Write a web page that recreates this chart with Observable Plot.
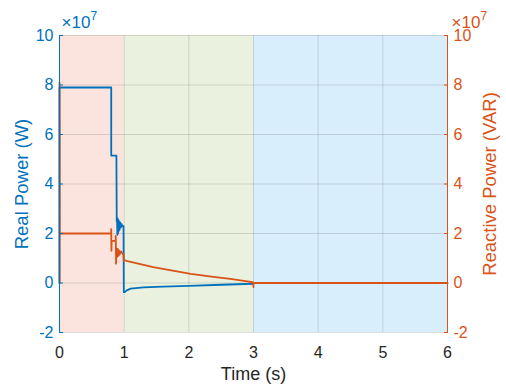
<!DOCTYPE html>
<html>
<head>
<meta charset="utf-8">
<script src="https://cdn.jsdelivr.net/npm/d3@7"></script>
<script src="https://cdn.jsdelivr.net/npm/@observablehq/plot@0.6"></script>
<style>
  html, body { margin: 0; padding: 0; background: #fff; }
  #chart svg { display: block; }
</style>
</head>
<body>
<div id="chart"></div>
<script>
// Axis ticks (both y axes share the same range, in units of 1e7)
const timeTicks = [0, 1, 2, 3, 4, 5, 6];
const powerTicks = [-2, 0, 2, 4, 6, 8, 10];

// Operating phases (s): pre-fault, transient, steady state
const phaseEdges = [0, 1, 3, 6];

// Real power P (×1e7 W)
const realTime = [0, 0, 0.80, 0.80, 0.88, 0.885, 0.89, 0.895, 0.90, 0.905, 0.91, 0.915, 0.92, 0.93, 0.94, 0.95, 0.96, 0.975, 0.99, 0.995, 1.01, 1.04, 1.1, 1.3, 1.6, 2.0, 2.5, 2.99, 3.0, 6];
const realPower = [0, 7.9, 7.9, 5.15, 5.15, 2.5, 2.65, 1.95, 2.6, 2.0, 2.55, 2.1, 2.5, 2.15, 2.45, 2.25, 2.38, 2.3, 2.3, -0.37, -0.37, -0.3, -0.23, -0.18, -0.15, -0.12, -0.07, -0.03, 0, 0];

// Reactive power Q (×1e7 VAR)
const reactiveTime = [0, 0, 0.002, 0.80, 0.80, 0.803, 0.806, 0.87, 0.87, 0.875, 0.88, 0.89, 0.90, 0.91, 0.92, 0.93, 0.95, 0.97, 0.99, 0.995, 1.0, 1.05, 1.2, 1.45, 1.75, 2.03, 2.35, 2.64, 2.85, 2.99, 3.0, 3.0, 6];
const reactivePower = [0, 8.1, 2.0, 2.0, 2.18, 1.3, 1.7, 1.7, 1.9, 0.78, 1.4, 1.05, 1.38, 1.1, 1.32, 1.15, 1.28, 1.2, 1.15, 0.9, 0.93, 0.88, 0.79, 0.64, 0.5, 0.37, 0.26, 0.17, 0.09, 0.03, -0.17, 0, 0];

const blue = "#0072BD";
const orange = "#D95319";
const ink = "#262626";
const phaseColors = ["#fae4dd", "#eaf1df", "#d9eefc"];

const phases = phaseEdges.slice(0, -1).map((start, i) => ({start, end: phaseEdges[i + 1], color: phaseColors[i]}));
const real = realTime.map((t, i) => ({t, v: realPower[i]}));
const reactive = reactiveTime.map((t, i) => ({t, v: reactivePower[i]}));

const yMin = powerTicks[0];
const yMax = powerTicks[powerTicks.length - 1];
const plain = d => String(d); // hyphen-minus, as in the original figure

const chart = Plot.plot({
  width: 506,
  height: 391,
  marginLeft: 59,
  marginRight: 59,
  marginTop: 35,
  marginBottom: 59,
  style: {fontFamily: "'Liberation Sans', Arial, sans-serif", background: "#fff"},
  x: {domain: [timeTicks[0], timeTicks[timeTicks.length - 1]]},
  y: {domain: [yMin, yMax]},
  color: {type: "identity"},
  marks: [
    Plot.rectY(phases, {x1: "start", x2: "end", y1: yMin, y2: yMax, fill: "color"}),
    Plot.gridX(timeTicks, {stroke: ink, strokeOpacity: 0.14}),
    Plot.gridY(powerTicks, {stroke: ink, strokeOpacity: 0.14}),
    Plot.line(real, {x: "t", y: "v", stroke: blue, strokeWidth: 1.8}),
    Plot.line(reactive, {x: "t", y: "v", stroke: orange, strokeWidth: 1.8}),
    // axis lines
    Plot.ruleX([timeTicks[0]], {stroke: blue, strokeWidth: 1}),
    Plot.ruleX([timeTicks[timeTicks.length - 1]], {stroke: orange, strokeWidth: 1}),
    Plot.axisX(timeTicks, {tickSize: 0, tickPadding: 14, fontSize: 16, color: ink, label: null, tickFormat: plain}),
    Plot.axisY(powerTicks, {anchor: "left", tickSize: -4, tickPadding: 10, fontSize: 16, color: blue, label: null, tickFormat: plain}),
    Plot.axisY(powerTicks, {anchor: "right", tickSize: -4, tickPadding: 10, fontSize: 16, color: orange, label: null, tickFormat: plain}),
    // exponent markers
    Plot.text(["×10"], {frameAnchor: "top-left", textAnchor: "start", lineAnchor: "bottom", dx: 2, dy: -8, fontSize: 17, fill: blue}),
    Plot.text(["7"], {frameAnchor: "top-left", textAnchor: "start", lineAnchor: "bottom", dx: 31, dy: -16, fontSize: 12, fill: blue}),
    Plot.text(["×10"], {frameAnchor: "top-right", textAnchor: "start", lineAnchor: "bottom", dx: 4, dy: -8, fontSize: 17, fill: orange}),
    Plot.text(["7"], {frameAnchor: "top-right", textAnchor: "start", lineAnchor: "bottom", dx: 33, dy: -16, fontSize: 12, fill: orange}),
    // axis titles
    Plot.text(["Time (s)"], {frameAnchor: "bottom", textAnchor: "middle", lineAnchor: "bottom", dy: 47, fontSize: 18, fill: ink}),
    Plot.text(["Real Power (W)"], {frameAnchor: "left", textAnchor: "middle", lineAnchor: "bottom", rotate: -90, dx: -32, fontSize: 18.5, fill: blue}),
    Plot.text(["Reactive Power (VAR)"], {frameAnchor: "right", textAnchor: "middle", lineAnchor: "bottom", rotate: -90, dx: 48, fontSize: 18.5, fill: orange})
  ]
});

document.getElementById("chart").appendChild(chart);
</script>
</body>
</html>
